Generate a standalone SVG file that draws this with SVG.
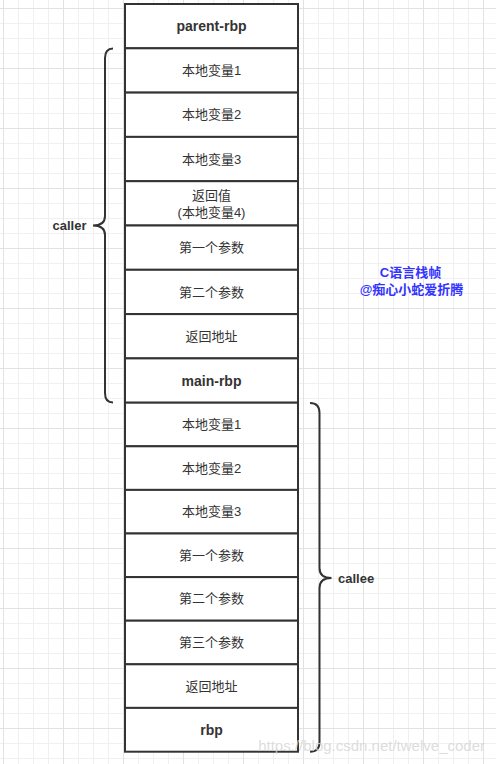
<svg xmlns="http://www.w3.org/2000/svg" width="496" height="764" viewBox="0 0 496 764">
<style>
.cell{fill:#ffffff;stroke:#333333;stroke-width:2}
.t{font-family:"Liberation Sans","Noto Sans CJK SC",sans-serif;font-size:13px;fill:#333333;text-anchor:middle;dominant-baseline:central}
.b{font-weight:bold;font-size:14px}
.brace{fill:none;stroke:#333333;stroke-width:2}
.lbl{font-family:"Liberation Sans","Noto Sans CJK SC",sans-serif;font-size:13px;font-weight:bold;fill:#333333;dominant-baseline:central}
.blue{font-family:"Liberation Sans","Noto Sans CJK SC",sans-serif;font-size:13px;font-weight:bold;fill:#3333ff;text-anchor:middle;dominant-baseline:central}
</style>
<defs>
<pattern id="grid" patternUnits="userSpaceOnUse" x="3" y="8" width="60" height="60">
<path d="M15.5,0V60M30.5,0V60M45.5,0V60M0,15.5H60M0,30.5H60M0,45.5H60" stroke="#f0f0f0" stroke-width="1" fill="none"/>
<path d="M0.5,0V60M0,0.5H60" stroke="#e2e2e2" stroke-width="1" fill="none"/>
</pattern>
</defs>
<rect width="496" height="764" fill="#ffffff"/>
<rect width="496" height="764" fill="url(#grid)"/>

<g id="caller-stack">
<g id="c0"><rect class="cell" x="125" y="4" width="173" height="44.3"/><text class="t b" x="211.5" y="26.2">parent-rbp</text></g>
<g id="c1"><rect class="cell" x="125" y="48.3" width="173" height="44.3"/><text class="t" x="211.5" y="70.5">本地变量1</text></g>
<g id="c2"><rect class="cell" x="125" y="92.6" width="173" height="44.3"/><text class="t" x="211.5" y="114.8">本地变量2</text></g>
<g id="c3"><rect class="cell" x="125" y="136.9" width="173" height="44.3"/><text class="t" x="211.5" y="159.1">本地变量3</text></g>
<g id="c4"><rect class="cell" x="125" y="181.2" width="173" height="44.3"/><text class="t" x="211.5" y="195">返回值</text><text class="t" x="211.5" y="212.5">(本地变量4)</text></g>
<g id="c5"><rect class="cell" x="125" y="225.5" width="173" height="44.3"/><text class="t" x="211.5" y="247.7">第一个参数</text></g>
<g id="c6"><rect class="cell" x="125" y="269.8" width="173" height="44.3"/><text class="t" x="211.5" y="292">第二个参数</text></g>
<g id="c7"><rect class="cell" x="125" y="314.1" width="173" height="44.3"/><text class="t" x="211.5" y="336.3">返回地址</text></g>
<g id="c8"><rect class="cell" x="125" y="358.4" width="173" height="44.3"/><text class="t b" x="211.5" y="380.6">main-rbp</text></g>
</g>

<g id="callee-stack">
<g id="d0"><rect class="cell" x="125" y="402.7" width="173" height="43.6"/><text class="t" x="211.5" y="424.5">本地变量1</text></g>
<g id="d1"><rect class="cell" x="125" y="446.3" width="173" height="43.6"/><text class="t" x="211.5" y="468.1">本地变量2</text></g>
<g id="d2"><rect class="cell" x="125" y="489.9" width="173" height="43.6"/><text class="t" x="211.5" y="511.7">本地变量3</text></g>
<g id="d3"><rect class="cell" x="125" y="533.5" width="173" height="43.6"/><text class="t" x="211.5" y="555.3">第一个参数</text></g>
<g id="d4"><rect class="cell" x="125" y="577.1" width="173" height="43.6"/><text class="t" x="211.5" y="598.9">第二个参数</text></g>
<g id="d5"><rect class="cell" x="125" y="620.7" width="173" height="43.6"/><text class="t" x="211.5" y="642.5">第三个参数</text></g>
<g id="d6"><rect class="cell" x="125" y="664.3" width="173" height="43.6"/><text class="t" x="211.5" y="686.1">返回地址</text></g>
<g id="d7"><rect class="cell" x="125" y="707.9" width="173" height="43.8"/><text class="t b" x="211.5" y="729.8">rbp</text></g>
</g>

<g id="connectors">
<path class="brace" d="M113,48.5 Q105,48.5 105,58 V216 Q105,225.5 93,225.5 Q105,225.5 105,235 V393 Q105,402.5 113,402.5"/>
<path class="brace" d="M310,403 Q319.5,403 319.5,413 V568 Q319.5,578 331.5,578 Q319.5,578 319.5,588 V742 Q319.5,751.7 310,751.7"/>
</g>

<g id="caller-label"><text class="lbl" x="52.5" y="225.5">caller</text></g>
<g id="callee-label"><text class="lbl" x="338" y="578">callee</text></g>
<g id="title"><text class="blue" x="410.5" y="272">C语言栈帧</text><text class="blue" x="411.5" y="289">@痴心小蛇爱折腾</text></g>
<text x="485" y="751" font-family="Liberation Sans, sans-serif" font-size="15" fill="#d6d6d6" fill-opacity="0.85" text-anchor="end">https://blog.csdn.net/twelve_coder</text>
</svg>
